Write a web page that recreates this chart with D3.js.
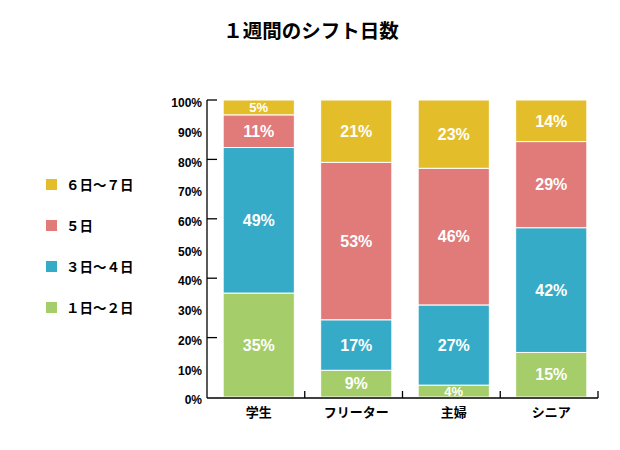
<!DOCTYPE html>
<html>
<head>
  <meta charset="utf-8">
  <title>1週間のシフト日数</title>
  <script src="https://d3js.org/d3.v7.min.js"></script>
  <style>
    body { margin: 0; background: #fff; }
    text { font-family: "Liberation Sans", Arial, "Noto Sans CJK JP", sans-serif; font-weight: bold; }
  </style>
</head>
<body>
  <script>
    var categories = ['学生', 'フリーター', '主婦', 'シニア'];
    var seriesNames = ['１日～２日', '３日～４日', '５日', '６日～７日'];
    var seriesColors = ['#a5cd6a', '#35abc8', '#e07b79', '#e4be2a'];
    var days12 = [35, 9, 4, 15];
    var days34 = [49, 17, 27, 42];
    var days5 = [11, 53, 46, 29];
    var days67 = [5, 21, 23, 14];
    var yTicks = [0, 10, 20, 30, 40, 50, 60, 70, 80, 90, 100];

    var width = 620, height = 450;
    var plot = { left: 207, right: 598, top: 100, bottom: 398 };

    var table = categories.map(function (c, i) {
      return { cat: c, s0: days12[i], s1: days34[i], s2: days5[i], s3: days67[i] };
    });
    var keys = ['s0', 's1', 's2', 's3'];
    var stacked = d3.stack().keys(keys)(table);

    var svg = d3.select('body').append('svg')
      .attr('width', width)
      .attr('height', height);

    var x = d3.scaleBand()
      .domain(categories)
      .range([210, 600])
      .paddingInner(0.27)
      .paddingOuter(0.135);
    var y = d3.scaleLinear()
      .domain([0, 100])
      .range([plot.bottom - 1, plot.top]);

    // title
    svg.append('text')
      .attr('x', 311)
      .attr('y', 38)
      .attr('text-anchor', 'middle')
      .style('font-size', '19.5px')
      .style('font-family', '"Noto Sans CJK JP", sans-serif')
      .text('１週間のシフト日数');

    // bars
    var layers = svg.append('g').selectAll('g')
      .data(stacked)
      .enter().append('g')
      .attr('fill', function (d, i) { return seriesColors[i]; });

    layers.selectAll('rect')
      .data(function (d) { return d; })
      .enter().append('rect')
      .attr('x', function (d) { return x(d.data.cat); })
      .attr('width', x.bandwidth())
      .attr('y', function (d) { return y(d[1]); })
      .attr('height', function (d) { return y(d[0]) - y(d[1]); })
      .attr('stroke', '#fff')
      .attr('stroke-width', 1);

    layers.selectAll('text')
      .data(function (d) { return d; })
      .enter().append('text')
      .attr('x', function (d) { return x(d.data.cat) + x.bandwidth() / 2; })
      .attr('y', function (d) { return (y(d[0]) + y(d[1])) / 2; })
      .attr('dy', '0.36em')
      .attr('text-anchor', 'middle')
      .attr('fill', '#fff')
      .style('font-size', function (d) { return (d[1] - d[0]) < 6 ? '13px' : '16px'; })
      .text(function (d) { return (d[1] - d[0]) + '%'; });

    // y axis
    var axisG = svg.append('g');
    axisG.append('line')
      .attr('x1', plot.left).attr('x2', plot.left)
      .attr('y1', y(100)).attr('y2', plot.bottom)
      .attr('stroke', '#000').attr('stroke-width', 1.3);
    axisG.selectAll('.ytick')
      .data(yTicks.filter(function (t) { return t % 20 === 0 && t > 0; }))
      .enter().append('line')
      .attr('x1', plot.left).attr('x2', plot.left + 10)
      .attr('y1', function (d) { return y(d); })
      .attr('y2', function (d) { return y(d); })
      .attr('stroke', '#000').attr('stroke-width', 1.3);
    axisG.selectAll('.ylab')
      .data(yTicks)
      .enter().append('text')
      .attr('x', 202)
      .attr('y', function (d) { return y(d) + 3; })
      .attr('dy', '0.35em')
      .attr('text-anchor', 'end')
      .style('font-size', '12px')
      .text(function (d) { return d + '%'; });

    // x axis
    axisG.append('line')
      .attr('x1', plot.left).attr('x2', plot.right)
      .attr('y1', plot.bottom).attr('y2', plot.bottom)
      .attr('stroke', '#000').attr('stroke-width', 1.3);
    var step = (plot.right - plot.left) / categories.length;
    axisG.selectAll('.xtick')
      .data(categories)
      .enter().append('line')
      .attr('x1', function (d, i) { return plot.left + step * (i + 1); })
      .attr('x2', function (d, i) { return plot.left + step * (i + 1); })
      .attr('y1', plot.bottom - 7).attr('y2', plot.bottom)
      .attr('stroke', '#000').attr('stroke-width', 1.3);
    axisG.selectAll('.xlab')
      .data(categories)
      .enter().append('text')
      .attr('x', function (d) { return x(d) + x.bandwidth() / 2; })
      .attr('y', 417)
      .attr('text-anchor', 'middle')
      .style('font-size', '13px')
      .style('font-family', '"Noto Sans CJK JP", sans-serif')
      .text(function (d) { return d; });

    // legend
    var legend = svg.append('g').selectAll('g')
      .data(seriesNames.slice().reverse())
      .enter().append('g')
      .attr('transform', function (d, i) { return 'translate(46,' + (185 + i * 41) + ')'; });
    legend.append('rect')
      .attr('x', 0).attr('y', -6)
      .attr('width', 11).attr('height', 11)
      .attr('fill', function (d) { return seriesColors[seriesNames.indexOf(d)]; });
    legend.append('text')
      .attr('x', 20).attr('y', 0)
      .attr('dy', '0.35em')
      .style('font-size', '13.5px')
      .style('font-family', '"Noto Sans CJK JP", sans-serif')
      .text(function (d) { return d; });
  </script>
</body>
</html>
